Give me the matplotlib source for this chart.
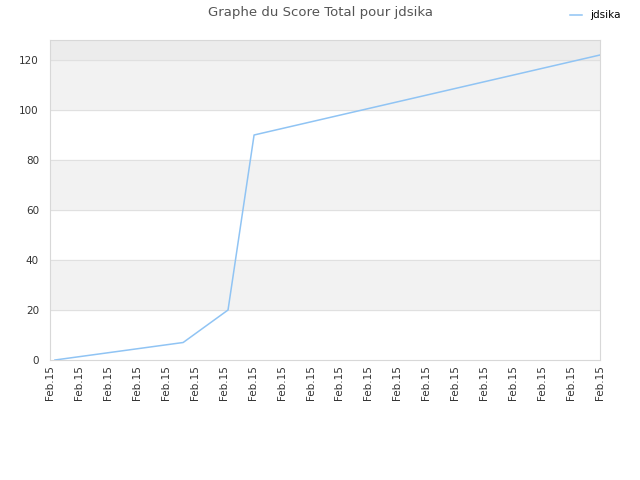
import matplotlib
matplotlib.use("Agg")
import matplotlib.pyplot as plt

# data (x in tick-slot units)
x_vals = [0.17, 4.6, 6.15, 7.05, 19.0]
scores = [0, 7, 20, 90, 122]
tick_labels = ["Feb.15"] * 20
player = "jdsika"

fig = plt.figure(figsize=(6.4, 4.8), dpi=100)
ax = fig.add_axes([50 / 640, 120 / 480, 550 / 640, 320 / 480])

# alternating horizontal bands
for lo in range(20, 120, 40):
    ax.axhspan(lo, lo + 20, color="#f2f2f2", zorder=0)
ax.axhspan(120, 128, color="#ececec", zorder=0)
for yv in range(20, 121, 20):
    ax.axhline(yv, color="#e0e0e0", lw=0.8, zorder=1)

ax.plot(x_vals, scores, color="#90c4f4", lw=1.1, label=player, zorder=3)

ax.set_xlim(0, 19)
ax.set_ylim(0, 128)
ax.set_xticks(range(20))
ax.set_xticklabels(tick_labels, rotation=90, fontsize=7.5, color="#333333")
ax.set_yticks(range(0, 121, 20))
ax.tick_params(axis="y", labelsize=7.5, colors="#333333", length=0, pad=8)
ax.tick_params(axis="x", length=0, pad=4)
for s in ax.spines.values():
    s.set_color("#d8d8d8")
    s.set_linewidth(0.8)

fig.text(0.5, 0.988, "Graphe du Score Total pour jdsika", ha="center", va="top",
         fontsize=9.5, color="#555555")
fig.legend(loc="upper right", bbox_to_anchor=(0.985, 0.998), frameon=False,
           fontsize=7.5, handlelength=1.2, handletextpad=0.8)

fig.savefig("out.png", dpi=100)
